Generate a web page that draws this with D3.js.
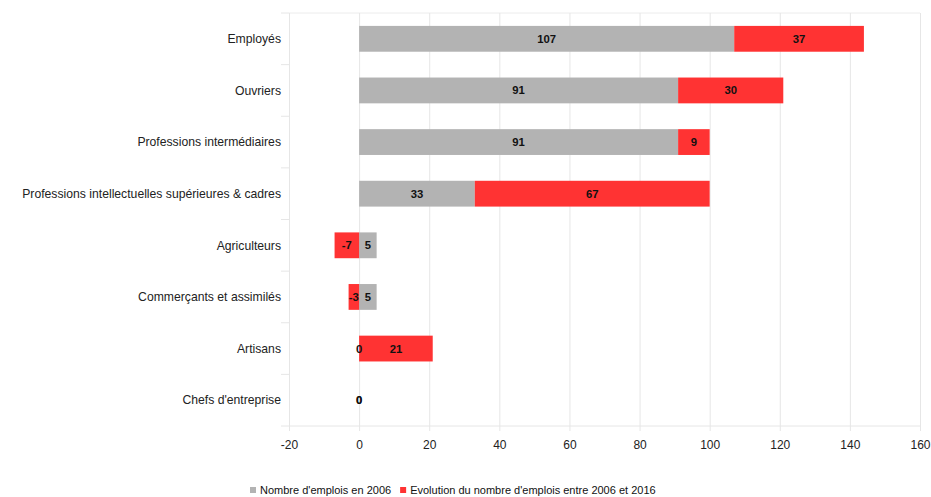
<!DOCTYPE html>
<html>
<head>
<meta charset="utf-8">
<script src="https://cdn.jsdelivr.net/npm/d3@7"></script>
<style>
  html, body { margin: 0; padding: 0; background: #fff; }
  svg { display: block; font-family: "Liberation Sans", Arial, sans-serif; }
</style>
</head>
<body>
<svg id="chart" width="931" height="497"></svg>
<script>
const categories = [
  "Employés",
  "Ouvriers",
  "Professions intermédiaires",
  "Professions intellectuelles supérieures & cadres",
  "Agriculteurs",
  "Commerçants et assimilés",
  "Artisans",
  "Chefs d'entreprise"
];
const emplois2006 = [107, 91, 91, 33, 5, 5, 0, 0];
const evolution = [37, 30, 9, 67, -7, -3, 21, 0];
const seriesNames = ["Nombre d'emplois en 2006", "Evolution du nombre d'emplois entre 2006 et 2016"];
const seriesColors = ["#b3b3b3", "#ff3333"];
const xTicks = [-20, 0, 20, 40, 60, 80, 100, 120, 140, 160];

const svg = d3.select("#chart");
const margin = { left: 289, right: 11, top: 13, bottom: 71 };
const W = 931, H = 497;

const x = d3.scaleLinear().domain([-20, 160]).range([margin.left, W - margin.right]);
const y = d3.scaleBand().domain(categories).range([margin.top, H - margin.bottom]).paddingInner(0.5).paddingOuter(0.25);
const band = d3.scaleBand().domain(categories).range([margin.top, H - margin.bottom]);

const rows = categories.map((c, i) => ({ cat: c, s0: emplois2006[i], s1: evolution[i] }));
const stack = d3.stack().keys(["s0", "s1"]).offset(d3.stackOffsetDiverging);
const layers = stack(rows);

const plotTop = margin.top, plotBottom = H - margin.bottom;

// top border
svg.append("line").attr("x1", x(-20)).attr("x2", x(160)).attr("y1", plotTop).attr("y2", plotTop)
  .attr("stroke", "#ececec").attr("stroke-width", 1);

// vertical grid + axis
const xAxis = d3.axisBottom(x).tickValues(xTicks).tickSize(plotBottom - plotTop + 5).tickPadding(9)
  .tickFormat(d => String(d));
const gx = svg.append("g").attr("transform", `translate(0,${plotTop})`).call(xAxis);
gx.select(".domain").remove();
gx.selectAll(".tick line").attr("stroke", "#e6e6e6");
gx.selectAll(".tick text").attr("font-size", 12).attr("fill", "#222").attr("font-family", "Liberation Sans, Arial, sans-serif");

// bottom line
svg.append("line").attr("x1", x(-20)).attr("x2", x(160)).attr("y1", plotBottom).attr("y2", plotBottom)
  .attr("stroke", "#e6e6e6");

// category separators on left axis
const seps = categories.map(c => band(c)).concat([plotBottom]);
svg.selectAll("line.sep").data(seps).enter().append("line").attr("class", "sep")
  .attr("x1", x(-20) - 8).attr("x2", x(-20)).attr("y1", d => d).attr("y2", d => d)
  .attr("stroke", "#e6e6e6");

// category labels
svg.selectAll("text.cat").data(categories).enter().append("text").attr("class", "cat")
  .attr("x", 281).attr("y", d => band(d) + band.bandwidth() / 2)
  .attr("dy", "0.35em").attr("text-anchor", "end")
  .attr("font-size", 12.2).attr("fill", "#222")
  .text(d => d);

// bars
layers.forEach((layer, li) => {
  svg.append("g").selectAll("rect").data(layer).enter().append("rect")
    .attr("x", d => x(Math.min(d[0], d[1])))
    .attr("width", d => Math.abs(x(d[1]) - x(d[0])))
    .attr("y", d => y(d.data.cat))
    .attr("height", y.bandwidth())
    .attr("fill", seriesColors[li]);
});

// value labels
layers.forEach((layer, li) => {
  svg.append("g").selectAll("text").data(layer).enter().append("text")
    .attr("x", d => x((d[0] + d[1]) / 2))
    .attr("y", d => y(d.data.cat) + y.bandwidth() / 2)
    .attr("dy", "0.35em").attr("text-anchor", "middle")
    .attr("font-size", 11.3).attr("font-weight", "bold").attr("fill", "#111")
    .text(d => d.data[layer.key]);
});

// legend
const legend = svg.append("g").attr("transform", "translate(250,491)");
let lx = 0;
seriesNames.forEach((name, i) => {
  const g = legend.append("g").attr("transform", `translate(${lx},0)`);
  g.append("rect").attr("x", 0).attr("y", -4).attr("width", 6).attr("height", 6).attr("fill", seriesColors[i]);
  const t = g.append("text").attr("x", 10).attr("y", 0).attr("dy", "0.3em")
    .attr("font-size", 11).attr("fill", "#111").text(name);
  lx += 10 + t.node().getComputedTextLength() + 9;
});
</script>
</body>
</html>
